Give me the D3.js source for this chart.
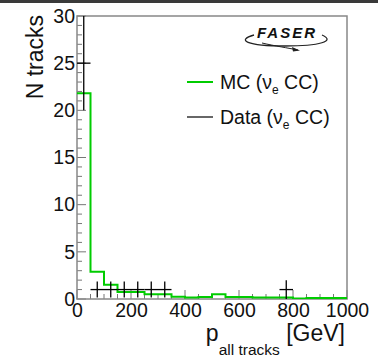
<!DOCTYPE html>
<html>
<head>
<meta charset="utf-8">
<script src="https://cdn.jsdelivr.net/npm/d3@7"></script>
<style>
  body { margin: 0; background: #fff; }
  svg text { font-family: "Liberation Sans", Arial, sans-serif; fill: #111; }
</style>
</head>
<body>
<div id="chart"></div>
<script>
// bin edges every 50 GeV
const binEdges = d3.range(0, 1001, 50);
const mcCounts = [21.8, 2.9, 1.5, 0.75, 0.75, 0.5, 0.5, 0.25, 0.15, 0.2,
                  0.5, 0.2, 0.2, 0.15, 0.15, 0.15, 0.05, 0.1, 0.1, 0.1];
// data points: bin centre, count, error
const dataCentres = [25, 75, 125, 175, 225, 275, 325, 775];
const dataCounts = [25, 1, 1, 1, 1, 1, 1, 1];
const dataErrors = [5, 0.85, 0.85, 0.85, 0.85, 0.85, 0.85, 1];
const xTicks = [0, 200, 400, 600, 800, 1000];
const yTicks = [0, 5, 10, 15, 20, 25, 30];

const W = 378, H = 364;
const margin = { top: 16, right: 31, bottom: 65, left: 77 };
const width = W - margin.left - margin.right;
const height = H - margin.top - margin.bottom;
const green = '#00cc00';

const svg = d3.select('#chart').append('svg')
  .attr('width', W).attr('height', H);

// dark strip at the very top of the screenshot
svg.append('rect').attr('x', 0).attr('y', 0).attr('width', W).attr('height', 3).attr('fill', '#3a3a3a');

const g = svg.append('g').attr('transform', `translate(${margin.left},${margin.top})`);

const x = d3.scaleLinear().domain([0, 1000]).range([0, width]);
const y = d3.scaleLinear().domain([0, 30]).range([height, 0]);

g.append('defs').append('clipPath').attr('id', 'clip')
  .append('rect').attr('width', width).attr('height', height);

// minor ticks
g.selectAll('.xminor').data(d3.range(0, 1001, 50)).enter().append('line')
  .attr('x1', d => x(d)).attr('x2', d => x(d))
  .attr('y1', height).attr('y2', d => height - (d % 200 === 0 ? 9 : 5))
  .attr('stroke', '#777').attr('stroke-width', 1);
g.selectAll('.yminor').data(d3.range(0, 31, 1)).enter().append('line')
  .attr('y1', d => y(d)).attr('y2', d => y(d))
  .attr('x1', 0).attr('x2', d => (d % 5 === 0 ? 9 : 5))
  .attr('stroke', '#777').attr('stroke-width', 1);

// frame
g.append('rect').attr('width', width).attr('height', height)
  .attr('fill', 'none').attr('stroke', '#888').attr('stroke-width', 1.5);

// tick labels
const xAxis = g.append('g').attr('transform', `translate(0,${height})`)
  .call(d3.axisBottom(x).tickValues(xTicks).tickFormat(d3.format('d')).tickSize(0).tickPadding(4));
xAxis.select('.domain').remove();
xAxis.selectAll('text').attr('font-size', 19.5).attr('fill', '#111')
  .attr('font-family', '"Liberation Sans", Arial, sans-serif');

const yAxis = g.append('g')
  .call(d3.axisLeft(y).tickValues(yTicks).tickSize(0).tickPadding(2));
yAxis.select('.domain').remove();
yAxis.selectAll('text').attr('font-size', 19.5).attr('fill', '#111')
  .attr('font-family', '"Liberation Sans", Arial, sans-serif');

// MC histogram as a step line
const steps = [];
mcCounts.forEach((c, i) => {
  steps.push([binEdges[i], c]);
  steps.push([binEdges[i + 1], c]);
});
steps.push([1000, 0]);
const line = d3.line().x(d => x(d[0])).y(d => y(d[1]));
g.append('path').datum(steps)
  .attr('d', line)
  .attr('fill', 'none').attr('stroke', green).attr('stroke-width', 2)
  .attr('clip-path', 'url(#clip)');

// data crosses
const pts = g.append('g').attr('clip-path', 'url(#clip)');
dataCentres.forEach((c, i) => {
  pts.append('line')
    .attr('x1', x(c - 25)).attr('x2', x(c + 25))
    .attr('y1', y(dataCounts[i])).attr('y2', y(dataCounts[i]))
    .attr('stroke', '#000').attr('stroke-width', 1.3);
  pts.append('line')
    .attr('x1', x(c)).attr('x2', x(c))
    .attr('y1', y(dataCounts[i] - dataErrors[i])).attr('y2', y(dataCounts[i] + dataErrors[i]))
    .attr('stroke', '#000').attr('stroke-width', 1.3);
});

// axis titles
svg.append('text')
  .attr('transform', 'translate(43,15) rotate(-90)')
  .attr('text-anchor', 'end').attr('font-size', 23)
  .text('N tracks');

const xt = svg.append('text').attr('x', 345).attr('y', 341)
  .attr('text-anchor', 'end').attr('font-size', 23);
xt.append('tspan').text('p');
xt.append('tspan').attr('dy', 14).attr('font-size', 15.5).text('all tracks');
xt.append('tspan').attr('dy', -14).text(' [GeV]');

// legend
const legend = svg.append('g');
const items = [
  { name: 'MC (', color: green, w: 2, yy: 82 },
  { name: 'Data (', color: '#000', w: 1.2, yy: 117 }
];
items.forEach(it => {
  legend.append('line').attr('x1', 187).attr('x2', 213)
    .attr('y1', it.yy).attr('y2', it.yy)
    .attr('stroke', it.color).attr('stroke-width', it.w);
  const t = legend.append('text').attr('x', 220).attr('y', it.yy + 7).attr('font-size', 19.5);
  t.append('tspan').text(it.name + 'ν');
  t.append('tspan').attr('dy', 5).attr('font-size', 12).text('e');
  t.append('tspan').attr('dy', -5).text(' CC)');
});

// FASER logo
const logo = svg.append('g');
logo.append('path')
  .attr('d', 'M 254 35 C 236 40, 246 46, 285 46 C 320 46, 336 41, 322 35')
  .attr('fill', 'none').attr('stroke', '#222').attr('stroke-width', 1.3);
logo.append('path')
  .attr('d', 'M 262 43 C 275 46, 288 48, 298 50')
  .attr('fill', 'none').attr('stroke', '#222').attr('stroke-width', 1);
logo.append('path').attr('d', 'M 300 50.5 L 292 47 L 293 51.5 Z').attr('fill', '#222');
logo.append('text').attr('x', 287).attr('y', 38)
  .attr('text-anchor', 'middle').attr('font-size', 15)
  .attr('font-style', 'italic').attr('font-weight', 'bold')
  .attr('letter-spacing', 2).attr('fill', '#000')
  .text('FASER');
</script>
</body>
</html>
